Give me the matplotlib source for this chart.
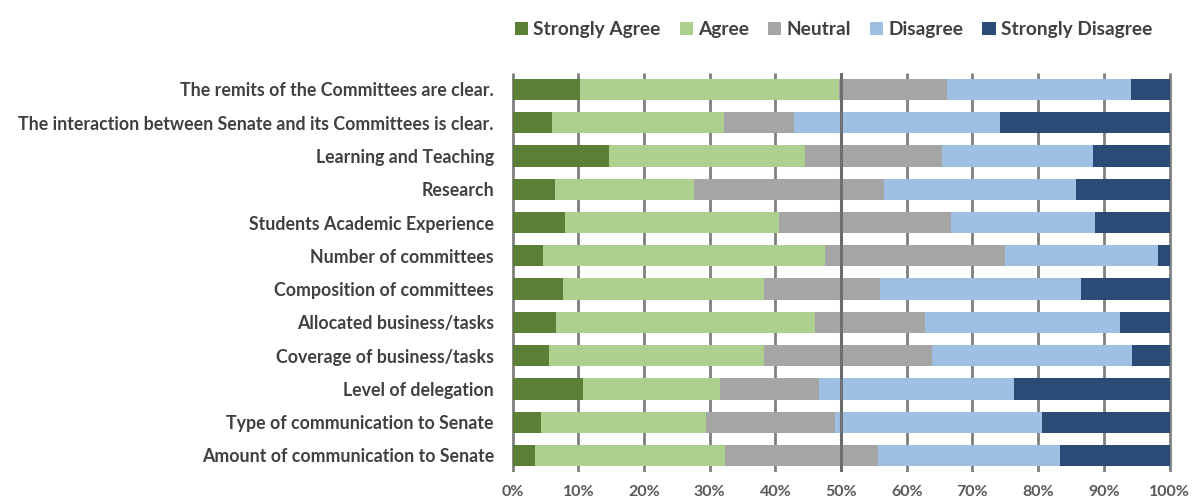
import numpy as np
import matplotlib.pyplot as plt

categories = [
    "The remits of the Committees are clear.",
    "The interaction between Senate and its Committees is clear.",
    "Learning and Teaching",
    "Research",
    "Students Academic Experience",
    "Number of committees",
    "Composition of committees",
    "Allocated business/tasks",
    "Coverage of business/tasks",
    "Level of delegation",
    "Type of communication to Senate",
    "Amount of communication to Senate",
]

strongly_agree = [10.3, 6.0, 14.7, 6.5, 8.0, 4.6, 7.6, 6.6, 5.6, 10.7, 4.4, 3.4]
agree = [39.4, 26.2, 29.8, 21.1, 32.5, 43.0, 30.6, 39.5, 32.6, 20.9, 25.1, 29.0]
neutral = [16.5, 10.6, 20.8, 29.0, 26.2, 27.3, 17.7, 16.7, 25.6, 15.0, 19.6, 23.2]
disagree = [27.9, 31.4, 23.0, 29.1, 22.0, 23.4, 30.6, 29.6, 30.5, 29.7, 31.5, 27.8]
strongly_disagree = [5.9, 25.8, 11.7, 14.3, 11.3, 1.7, 13.5, 7.6, 5.7, 23.7, 19.4, 16.6]

series = ["Strongly Agree", "Agree", "Neutral", "Disagree", "Strongly Disagree"]
colors = ["#5b7f37", "#add08f", "#a5a5a5", "#a0c0e3", "#2a4b76"]
tick_pos = list(range(0, 101, 10))

plt.rcParams["font.family"] = ["Lato", "DejaVu Sans"]

fig = plt.figure(figsize=(11.93, 4.99), dpi=100)
ax = fig.add_axes([0.428, 0.054, 0.554, 0.80])

y = np.arange(len(categories))
left = np.zeros(len(categories))
for name, vals, col in zip(series, [strongly_agree, agree, neutral, disagree, strongly_disagree], colors):
    ax.barh(y, vals, left=left, height=0.64, color=col, label=name, zorder=2)
    left += np.array(vals)

ax.set_xlim(-0.3, 100.3)
ax.set_ylim(len(categories) - 0.5, -0.5)
ax.set_xticks(tick_pos)
ax.set_xticklabels([f"{v}%" for v in tick_pos])
# gridlines behind the bars
ax.vlines(tick_pos, -0.5, len(categories) - 0.5, colors="#7f7f7f", linewidth=2.0, zorder=1)
ax.axvline(50, color="#666666", linewidth=2.2, zorder=3, alpha=0.85)

ax.set_yticks(y)
ax.set_yticklabels(categories)
for s in ax.spines.values():
    s.set_visible(False)
ax.tick_params(axis="both", length=0, colors="#404040")
ax.tick_params(axis="y", pad=12)
ax.tick_params(axis="x", pad=9)
for lab in ax.get_yticklabels():
    lab.set_fontsize(12.8)
    lab.set_fontweight("bold")
    lab.set_color("#404040")
for lab in ax.get_xticklabels():
    lab.set_fontsize(11.5)
    lab.set_fontweight("bold")
    lab.set_color("#595959")

leg = fig.legend(loc="center right", bbox_to_anchor=(0.98, 0.94), ncol=5, frameon=False,
                 handlelength=0.7, handleheight=0.7, handletextpad=0.25, columnspacing=1.0,
                 prop={"weight": "bold", "size": 13.8})
for t in leg.get_texts():
    t.set_color("#404040")

fig.savefig("out.png", dpi=100)
